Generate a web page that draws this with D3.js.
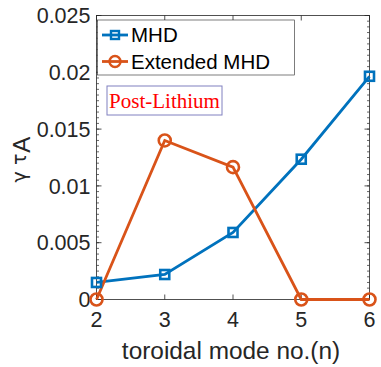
<!DOCTYPE html>
<html><head><meta charset="utf-8">
<script src="https://cdn.jsdelivr.net/npm/d3@7"></script>
<style>body{margin:0;background:#fff}svg{display:block}</style>
</head><body><svg id="c" width="381" height="367"></svg>
<script>
const modes = [2, 3, 4, 5, 6];
const mhd = [0.0015, 0.0022, 0.0059, 0.01235, 0.01965];
const extMhd = [0, 0.0140, 0.01165, 0, 0];
const yTicks = [0, 0.005, 0.01, 0.015, 0.02, 0.025];
const yTickLabels = ["0", "0.005", "0.01", "0.015", "0.02", "0.025"];
const seriesNames = ["MHD", "Extended MHD"];

const svg = d3.select("#c");
const L = 96.5, R = 369.5, T = 15.5, B = 299.5;
const x = d3.scaleLinear().domain([2, 6]).range([L, R]);
const y = d3.scaleLinear().domain([0, 0.025]).range([B, T]);
const font = "Liberation Sans, Arial, sans-serif";
const blue = "#0072BD", orange = "#D95319";
const ax = "#262626";

svg.append("rect").attr("x", L).attr("y", T).attr("width", R - L).attr("height", B - T)
  .attr("fill", "none").attr("stroke", ax).attr("stroke-width", 0.8);

const minor = d3.range(0, 0.02501, 0.0005);
minor.forEach(v => {
  svg.append("line").attr("x1", L).attr("x2", L + 2.5).attr("y1", y(v)).attr("y2", y(v)).attr("stroke", ax).attr("stroke-width", 0.7);
  svg.append("line").attr("x1", R).attr("x2", R - 2.5).attr("y1", y(v)).attr("y2", y(v)).attr("stroke", ax).attr("stroke-width", 0.7);
});
yTicks.forEach((v, i) => {
  svg.append("line").attr("x1", L).attr("x2", L + 5).attr("y1", y(v)).attr("y2", y(v)).attr("stroke", ax).attr("stroke-width", 0.8);
  svg.append("line").attr("x1", R).attr("x2", R - 5).attr("y1", y(v)).attr("y2", y(v)).attr("stroke", ax).attr("stroke-width", 0.8);
  svg.append("text").attr("x", L - 6).attr("y", y(v)).attr("dy", "0.36em").attr("text-anchor", "end")
    .attr("font-family", font).attr("font-size", 21.5).attr("fill", ax).text(yTickLabels[i]);
});
modes.forEach(m => {
  svg.append("line").attr("x1", x(m)).attr("x2", x(m)).attr("y1", B).attr("y2", B - 5).attr("stroke", ax).attr("stroke-width", 0.8);
  svg.append("line").attr("x1", x(m)).attr("x2", x(m)).attr("y1", T).attr("y2", T + 5).attr("stroke", ax).attr("stroke-width", 0.8);
  svg.append("text").attr("x", x(m)).attr("y", 327).attr("text-anchor", "middle")
    .attr("font-family", font).attr("font-size", 21.5).attr("fill", ax).text(m);
});
svg.append("text").attr("x", 231).attr("y", 358.5).attr("text-anchor", "middle")
  .attr("font-family", font).attr("font-size", 24.4).attr("fill", ax).text("toroidal mode no.(n)");
const yl = svg.append("text").attr("transform", `translate(26,${(T + B) / 2 + 2}) rotate(-90)`)
  .attr("text-anchor", "middle").attr("font-family", font).attr("font-size", 24).attr("fill", ax);
yl.append("tspan").attr("font-family", "DejaVu Sans, sans-serif").attr("font-size", 19).text("γ τ");
yl.append("tspan").attr("dy", 4).attr("dx", 1).text("A");

const line = d3.line().x((d, i) => x(modes[i])).y(d => y(d));
svg.append("path").datum(mhd).attr("d", line).attr("fill", "none").attr("stroke", blue).attr("stroke-width", 2.8);
svg.append("path").datum(extMhd).attr("d", line).attr("fill", "none").attr("stroke", orange).attr("stroke-width", 2.8);
mhd.forEach((v, i) => {
  svg.append("rect").attr("x", x(modes[i]) - 4.5).attr("y", y(v) - 4.5).attr("width", 9).attr("height", 9)
    .attr("fill", "none").attr("stroke", blue).attr("stroke-width", 2.6);
});
extMhd.forEach((v, i) => {
  svg.append("circle").attr("cx", x(modes[i])).attr("cy", y(v)).attr("r", 6)
    .attr("fill", "none").attr("stroke", orange).attr("stroke-width", 2.6);
});

const lg = svg.append("g");
lg.append("rect").attr("x", 97.5).attr("y", 20).attr("width", 197).attr("height", 55)
  .attr("fill", "#fff").attr("stroke", ax).attr("stroke-width", 0.6);
const colors = [blue, orange];
seriesNames.forEach((n, i) => {
  const cy = 35 + i * 26.5;
  lg.append("line").attr("x1", 102).attr("x2", 128).attr("y1", cy).attr("y2", cy).attr("stroke", colors[i]).attr("stroke-width", 2.8);
  if (i === 0) lg.append("rect").attr("x", 111).attr("y", cy - 4).attr("width", 8).attr("height", 8).attr("fill", "none").attr("stroke", blue).attr("stroke-width", 2.4);
  else lg.append("circle").attr("cx", 115).attr("cy", cy).attr("r", 5.5).attr("fill", "none").attr("stroke", orange).attr("stroke-width", 2.4);
  lg.append("text").attr("x", 131).attr("y", cy).attr("dy", "0.36em").attr("font-family", font).attr("font-size", 20.5).attr("fill", "#000").text(n);
});

svg.append("rect").attr("x", 107).attr("y", 86).attr("width", 115).attr("height", 29)
  .attr("fill", "#fff").attr("stroke", "#8080c0").attr("stroke-width", 1);
svg.append("text").attr("x", 164.5).attr("y", 101).attr("dy", "0.35em").attr("text-anchor", "middle")
  .attr("font-family", "Liberation Serif, Times New Roman, serif").attr("font-size", 21).attr("fill", "#ff0000").text("Post-Lithium");
</script></body></html>
